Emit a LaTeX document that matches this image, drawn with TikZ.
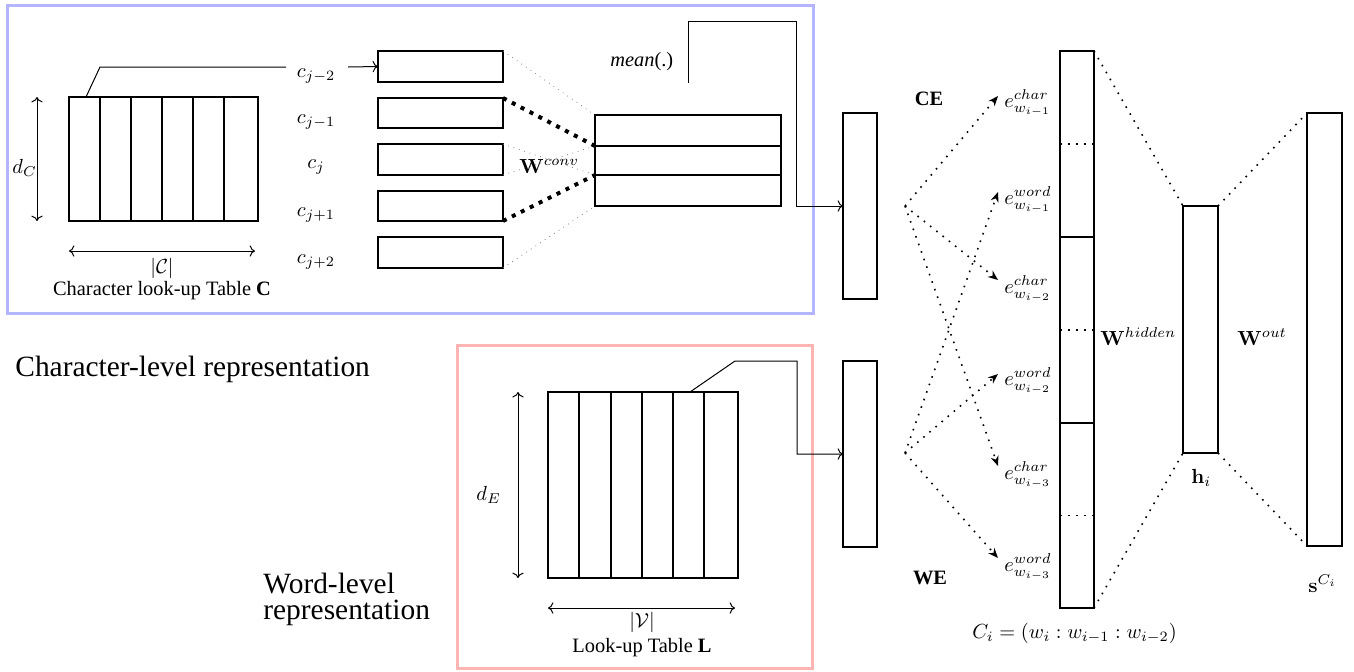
\documentclass[tikz,border=0pt]{standalone}
\usepackage{fix-cm}
\usepackage[no-math]{fontspec}
\setmainfont{Liberation Serif}
\usetikzlibrary{arrows.meta,calc}
\definecolor{frameblue}{RGB}{180,180,255}
\definecolor{framepink}{RGB}{255,180,180}
\begin{document}
\begin{tikzpicture}[x=0.5pt,y=-0.5pt,
  every node/.style={font=\fontsize{10.2pt}{12pt}\selectfont},
  box/.style={draw, line width=0.9pt, inner sep=0pt, outer sep=0pt},
  frame/.style={line width=1.5pt, inner sep=0pt, outer sep=0pt, anchor=north west},
  conn/.style={line width=0.5pt},
  tabline/.style={line width=0.9pt},
  thindot/.style={gray, line width=0.4pt, dash pattern=on 0.4pt off 2.4pt},
  thickdot/.style={line width=2pt, dash pattern=on 2pt off 3pt},
  dotl/.style={line width=0.8pt, dash pattern=on 0.8pt off 3.2pt},
  dotarr/.style={dotl, -{Stealth[length=5pt,width=4pt]}},
  lbl/.style={inner sep=0pt, anchor=base},
  lblw/.style={inner sep=0pt, anchor=base west},
  clbl/.style={inner sep=0pt, anchor=base},
  big/.style={font=\fontsize{14.7pt}{12.6pt}\selectfont, inner sep=0pt, anchor=base west},
]
\useasboundingbox (0,0) rectangle (1354,671);

% frames
\node[frame, draw=frameblue, minimum width=403pt, minimum height=154pt] (charframe) at (7,5) {};
\node[frame, draw=framepink, minimum width=177.5pt, minimum height=161.5pt] (wordframe) at (457,345) {};

% character look-up table
\node[box, anchor=north west, minimum width=94.5pt, minimum height=62pt] (tabC) at (69,97) {};
\foreach \x in {100,131,162,193,224} \draw[tabline] (\x,97) -- (\x,221);
\draw[conn,<->] (37,97) -- (37,221);
\node[lblw] (dC) at (12,173) {$d_C$};
\draw[conn,<->] (69,251) -- (255,251);
\node[lbl] (Csize) at (162,273) {$|\mathcal{C}|$};
\node[lbl] (Ccap) at (162,295) {Character look-up Table \textbf{C}};

% character labels and vectors
\node[clbl] (cm2) at (316,77) {$c_{j-2}$};
\node[clbl] (cm1) at (316,123.5) {$c_{j-1}$};
\node[clbl] (c0)  at (316,168) {$c_{j}$};
\node[clbl] (cp1) at (316,216.5) {$c_{j+1}$};
\node[clbl] (cp2) at (316,263) {$c_{j+2}$};

\node[box, minimum width=62.5pt, minimum height=15.5pt] (r1) at (440.5,66.5) {};
\node[box, minimum width=62.5pt, minimum height=15pt] (r2) at (440.5,113) {};
\node[box, minimum width=62.5pt, minimum height=15.5pt] (r3) at (440.5,159.5) {};
\node[box, minimum width=62.5pt, minimum height=15pt] (r4) at (440.5,206) {};
\node[box, minimum width=62.5pt, minimum height=15.5pt] (r5) at (440.5,252.5) {};

\coordinate (cEnd) at (286,67);
\draw[conn] ($(tabC.north west)+(17,0)$) -- (100,67) -- (cEnd);
\draw[conn,->] (348,67) -- (r1.west);

% convolution output
\node[box, minimum width=93pt, minimum height=15.5pt] (conv1) at (688,130.5) {};
\node[box, minimum width=93pt, minimum height=14.5pt] (conv2) at (688,160.5) {};
\node[box, minimum width=93pt, minimum height=15.5pt] (conv3) at (688,190.5) {};

\draw[thindot] (r1.north east) -- (conv1.north west);
\draw[thindot] (r3.south east) -- (conv1.south west);
\draw[thindot] (r3.north east) -- (conv3.north west);
\draw[thindot] (r5.south east) -- (conv3.south west);
\draw[thickdot] (r2.north east) -- (conv2.north west);
\draw[thickdot] (r4.south east) -- (conv2.south west);
\node[lblw] (Wconv) at (519,173) {$\mathbf{W}^{conv}$};

\node[lblw] (mean) at (610,66) {\textit{mean}(.)};

% embedding boxes
\node[box, minimum width=17pt, minimum height=93pt] (ce) at (860,206) {};
\node[box, minimum width=17pt, minimum height=93pt] (we) at (860,454) {};

\coordinate (mStart) at (688,83);
\draw[conn,->] (mStart) |- (796,21) |- (ce.west);

% word look-up table
\node[box, anchor=north west, minimum width=95pt, minimum height=93pt] (tabL) at (548,392) {};
\foreach \x in {579,611,642,673,704} \draw[tabline] (\x,392) -- (\x,578);
\draw[conn,<->] (518,392) -- (518,578);
\node[lblw] (dE) at (476,500) {$d_E$};
\draw[conn,<->] (548,608) -- (735,608);
\node[lbl] (Vsize) at (642,627) {$|\mathcal{V}|$};
\node[lbl] (Lcap) at (642,652) {Look-up Table \textbf{L}};
\draw[conn,->] (690,392) -- (735,361) -- (797,361) |- (we.west);

% big labels
\node[big] (charrep) at (15,376) {Character-level representation};
\node[big, align=left, anchor=north west] (wordrep) at (263,573) {Word-level\\representation};

% CE / WE
\node[lbl] (CE) at (929,105) {\textbf{CE}};
\node[lbl] (WE) at (930,584) {\textbf{WE}};

% split points and arrows
\coordinate (ceS) at (905,206);
\coordinate (weS) at (905,453);

\node[lblw] (e1) at (1004,107) {$e^{char}_{w_{i-1}}$};
\node[lblw] (e2) at (1004,204) {$e^{word}_{w_{i-1}}$};
\node[lblw] (e3) at (1004,293) {$e^{char}_{w_{i-2}}$};
\node[lblw] (e4) at (1004,385) {$e^{word}_{w_{i-2}}$};
\node[lblw] (e5) at (1004,479) {$e^{char}_{w_{i-3}}$};
\node[lblw] (e6) at (1004,571) {$e^{word}_{w_{i-3}}$};

\coordinate (t1) at (998,96);
\coordinate (t2) at (998,192);
\coordinate (t3) at (998,280);
\coordinate (t4) at (998,374);
\coordinate (t5) at (998,466);
\coordinate (t6) at (998,558);

\draw[dotarr] (ceS) -- (t1);
\draw[dotarr] (ceS) -- (t3);
\draw[dotarr] (ceS) -- (t5);
\draw[dotarr] (weS) -- (t2);
\draw[dotarr] (weS) -- (t4);
\draw[dotarr] (weS) -- (t6);

% concatenation
\node[box, minimum width=17pt, minimum height=93pt] (p1) at (1077,144) {};
\node[box, minimum width=17pt, minimum height=93pt] (p2) at (1077,330) {};
\node[box, minimum width=17pt, minimum height=92.5pt] (p3) at (1077,515.5) {};
\draw[dotl] (p1.west) -- (p1.east);
\draw[dotl] (p2.west) -- (p2.east);
\draw[dotl] (p3.west) -- (p3.east);
\node[lblw] (Ci) at (972,638) {$C_i = (w_i : w_{i-1} : w_{i-2})$};

% hidden and output
\node[box, minimum width=17.5pt, minimum height=123.5pt] (h) at (1200.5,329.5) {};
\node[box, minimum width=17.5pt, minimum height=216.5pt] (s) at (1324.5,329.5) {};
\draw[dotl] (p1.north east) -- (h.north west);
\draw[dotl] (p3.south east) -- (h.south west);
\draw[dotl] (h.north east) -- (s.north west);
\draw[dotl] (h.south east) -- (s.south west);

\node[lblw] (Whid) at (1100,345) {$\mathbf{W}^{hidden}$};
\node[lblw] (Wout) at (1237,345) {$\mathbf{W}^{out}$};
\node[lblw] (hi) at (1191,483) {$\mathbf{h}_i$};
\node[lblw] (sC) at (1308,592) {$\mathbf{s}^{C_i}$};
\end{tikzpicture}
\end{document}
